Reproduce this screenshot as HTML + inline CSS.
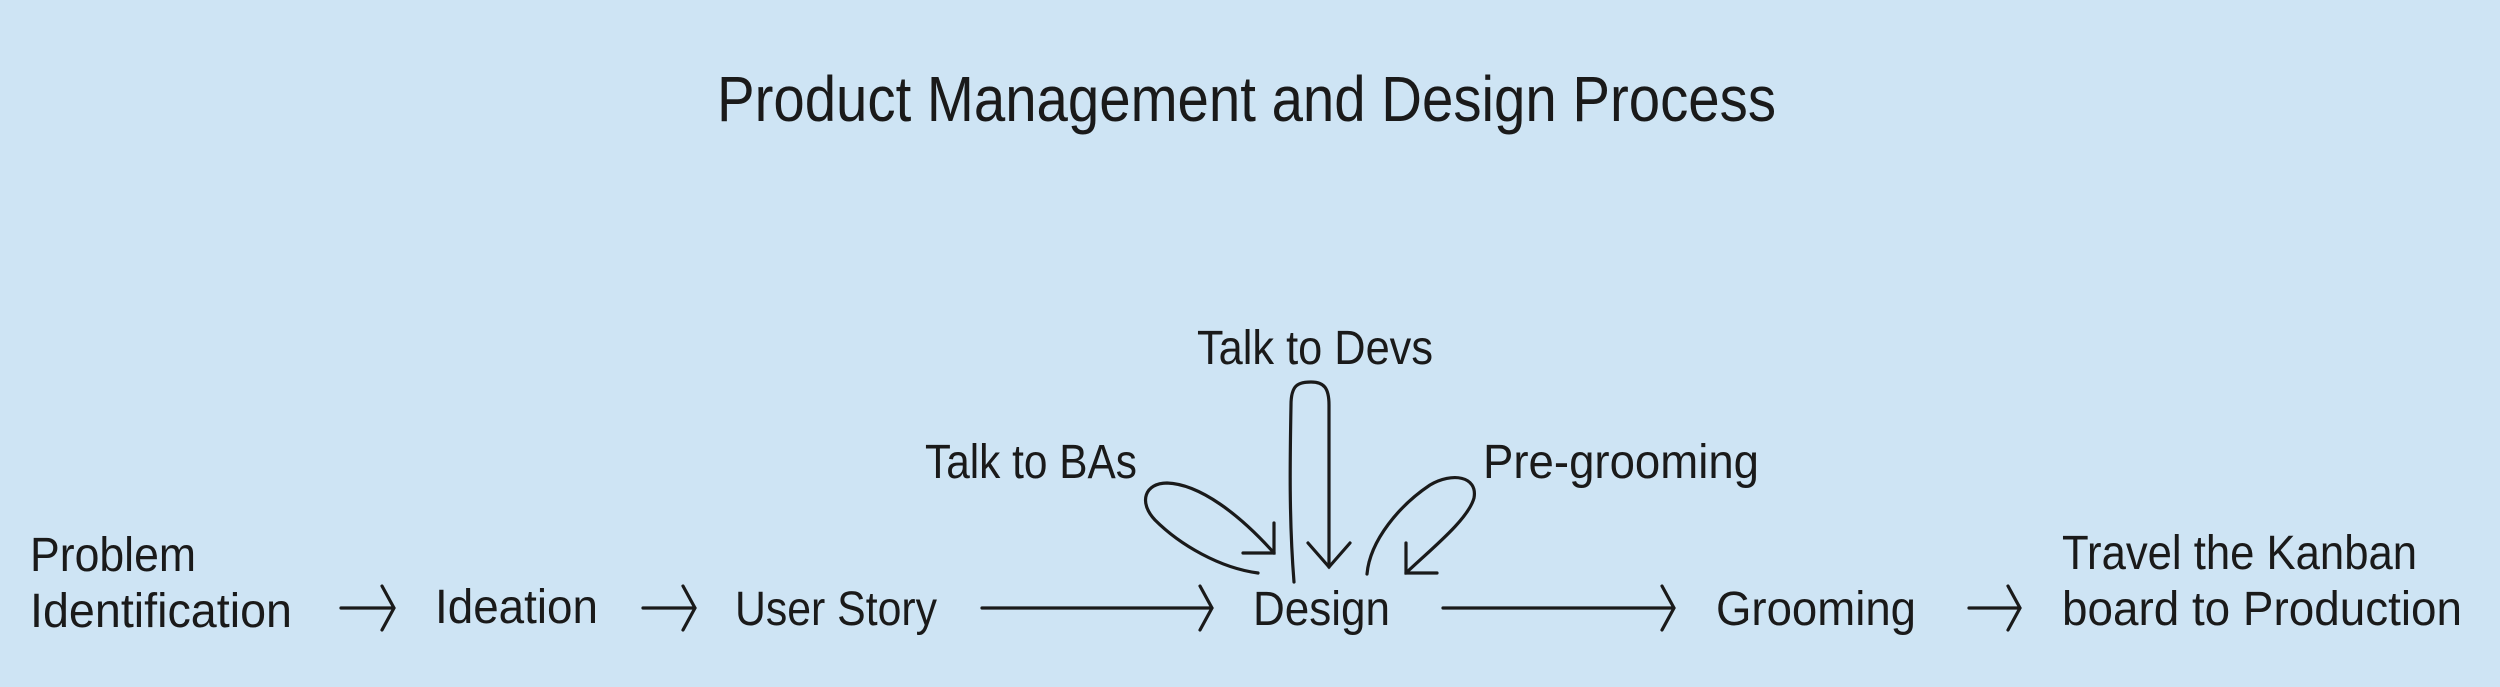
<!DOCTYPE html>
<html><head><meta charset="utf-8"><style>
html,body{margin:0;padding:0;background:#cee4f4;}
svg{display:block}
text{font-family:"Liberation Sans",sans-serif;fill:#1a1a1a;}
</style></head><body>
<svg width="2500" height="687" viewBox="0 0 2500 687" xmlns="http://www.w3.org/2000/svg">
<rect width="2500" height="687" fill="#cee4f4"/>
<text x="717" y="121" font-size="64" textLength="1059" lengthAdjust="spacingAndGlyphs">Product Management and Design Process</text>
<g font-size="48">
<text x="30" y="571" textLength="166" lengthAdjust="spacingAndGlyphs">Problem</text>
<text x="30" y="627" textLength="262" lengthAdjust="spacingAndGlyphs">Identification</text>
<text x="435" y="623" textLength="163" lengthAdjust="spacingAndGlyphs">Ideation</text>
<text x="735" y="625" textLength="202" lengthAdjust="spacingAndGlyphs">User Story</text>
<text x="1253" y="625" textLength="137" lengthAdjust="spacingAndGlyphs">Design</text>
<text x="1716" y="625" textLength="200" lengthAdjust="spacingAndGlyphs">Grooming</text>
<text x="2062" y="569" textLength="355" lengthAdjust="spacingAndGlyphs">Travel the Kanban</text>
<text x="2062" y="625" textLength="400" lengthAdjust="spacingAndGlyphs">board to Production</text>
<text x="925" y="478" textLength="212" lengthAdjust="spacingAndGlyphs">Talk to BAs</text>
<text x="1197" y="364" textLength="236" lengthAdjust="spacingAndGlyphs">Talk to Devs</text>
<text x="1483" y="478" textLength="276" lengthAdjust="spacingAndGlyphs">Pre-grooming</text>
</g>
<g fill="none" stroke="#1a1a1a" stroke-width="3.2" stroke-linecap="round" stroke-linejoin="miter">
<path d="M341 608H394M382 586L394 608L382 630"/>
<path d="M643 608H695M683 586L695 608L683 630"/>
<path d="M982 608H1212M1200 586L1212 608L1200 630"/>
<path d="M1443 608H1674M1662 586L1674 608L1662 630"/>
<path d="M1969 608H2020M2008 586L2020 608L2008 630"/>
<!-- Devs loop -->
<path d="M1294 582C1289 520 1290 460 1291 405C1291 385 1298 382 1311 382C1324 382 1329 388 1329 405V567"/>
<path d="M1308 543L1329 567L1350 543"/>
<!-- BAs loop -->
<path d="M1258 573C1220 568 1180 545 1155 520C1138 502 1145 483 1167 483C1200 484 1240 515 1274 553"/>
<path d="M1243 553H1274V523"/>
<!-- Pre loop -->
<path d="M1367 574C1370 540 1400 505 1430 485C1452 472 1478 476 1474 498C1468 520 1430 550 1406 573"/>
<path d="M1406 543V573H1437"/>
</g>
</svg>
</body></html>
